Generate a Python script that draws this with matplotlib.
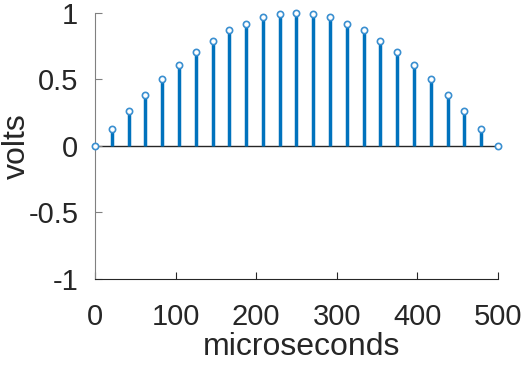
import matplotlib
matplotlib.use("Agg")
import matplotlib.pyplot as plt

t_us = [0, 20.8, 41.7, 62.5, 83.3, 104.2, 125.0, 145.8, 166.7, 187.5, 208.3, 229.2,
        250.0, 270.8, 291.7, 312.5, 333.3, 354.2, 375.0, 395.8, 416.7, 437.5, 458.3,
        479.2, 500.0]
volts = [0, 0.13, 0.26, 0.38, 0.50, 0.61, 0.71, 0.79, 0.87, 0.92, 0.97, 0.99,
         1.0, 0.99, 0.97, 0.92, 0.87, 0.79, 0.71, 0.61, 0.50, 0.38, 0.26, 0.13, 0]
xticks = [0, 100, 200, 300, 400, 500]
yticks = [-1, -0.5, 0, 0.5, 1]
ytick_labels = ["-1", "-0.5", "0", "0.5", "1"]

plt.rcParams['font.family'] = ['Liberation Sans', 'DejaVu Sans']
fig = plt.figure(figsize=(5.32, 3.66), dpi=100)
ax = fig.add_axes([0.1786, 0.2377, 0.936 - 0.1786, 0.9645 - 0.2377])

blue = '#0072BD'
ml, sl, bl = ax.stem(t_us, volts, basefmt=' ')
plt.setp(sl, color=blue, linewidth=2.5)
plt.setp(ml, marker='o', markersize=4.5, markerfacecolor='white',
         markeredgecolor='#3a8fd0', markeredgewidth=1.2, zorder=4)
ax.axhline(0, color='#262626', linewidth=1.0, zorder=1)

ax.set_xlim(0, 500)
ax.set_ylim(-1, 1)
ax.set_xticks(xticks)
ax.set_yticks(yticks)
ax.set_yticklabels(ytick_labels)
for s in ['top', 'right']:
    ax.spines[s].set_visible(False)
ax.spines['left'].set_color('#808080')
ax.spines['bottom'].set_color('#262626')
ax.tick_params(direction='in', length=5, labelsize=21, colors='#262626')
ax.tick_params(axis='y', colors='#808080', labelcolor='#262626', pad=12)
ax.tick_params(axis='x', pad=17)

ax.set_xlabel('microseconds', fontsize=23, color='#262626')
ax.xaxis.label.set_va('baseline')
ax.xaxis.set_label_coords(0.513, -0.2857)
ax.set_ylabel('volts', fontsize=23, color='#262626')
ax.yaxis.label.set_va('baseline')
ax.yaxis.set_label_coords(-0.1737, 0.5)
for a in (ml, sl):
    a.set_clip_on(False)

fig.savefig('out.png', dpi=100)
